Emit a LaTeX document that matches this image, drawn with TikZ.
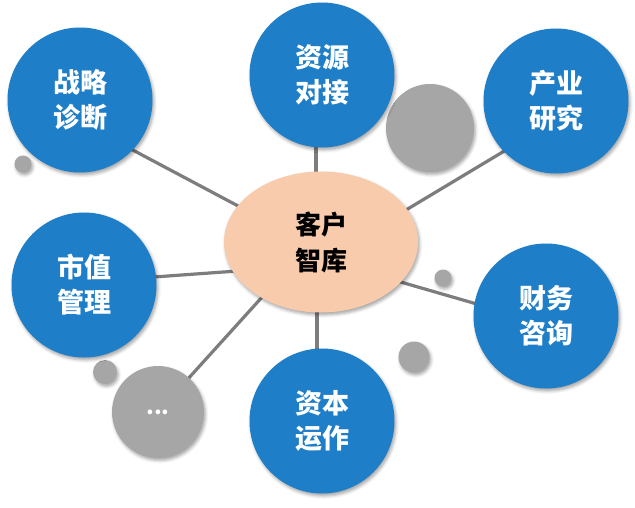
\documentclass[tikz,border=0pt]{standalone}
\usepackage{fontspec}
\newfontfamily\cjk{Noto Sans CJK SC}[BoldFont={Noto Sans CJK SC Black}]
\usetikzlibrary{shapes.geometric,shadows.blur,backgrounds}
\definecolor{bubbleblue}{RGB}{31,126,200}
\definecolor{peach}{RGB}{248,203,173}
\definecolor{dotgray}{RGB}{166,166,166}
\definecolor{linkgray}{RGB}{125,125,125}
\tikzset{
  softshadow/.style={blur shadow={shadow xshift=1.5pt, shadow yshift=-2.5pt, shadow blur radius=3pt, shadow opacity=35}},
  bluebubble/.style={circle, fill=bubbleblue, minimum size=145pt, inner sep=0pt, softshadow,
     text=white, align=center, font=\cjk\bfseries\fontsize{27}{35}\selectfont},
  graydot/.style={circle, fill=dotgray, inner sep=0pt, softshadow},
  hub/.style={ellipse, fill=peach, minimum width=194pt, minimum height=141pt, inner sep=0pt, softshadow,
     text=black, align=center, font=\cjk\bfseries\fontsize{26}{36}\selectfont},
  link/.style={draw=linkgray, line width=3.2pt}
}
\begin{document}
\begin{tikzpicture}[x=1pt,y=-1pt]
\useasboundingbox (0,0) rectangle (635,507);
% gray dots
\node[graydot, minimum size=17pt] (g1) at (23,164) {};
\node[graydot, minimum size=88pt] (g2) at (430,128) {};
\node[graydot, minimum size=17pt] (g3) at (443,278) {};
\node[graydot, minimum size=31pt] (g4) at (414,357) {};
\node[graydot, minimum size=24pt] (g5) at (105,372) {};
\node[graydot, minimum size=92pt, text=white, font=\cjk\bfseries\fontsize{22}{24}\selectfont] (more) at (158,412) {...};
% hub and bubbles
\node[hub] (hub) at (321,242) {客户\\智库};
\node[bluebubble] (zl) at (80,100) {战略\\诊断};
\node[bluebubble] (zy) at (322,75) {资源\\对接};
\node[bluebubble] (cy) at (556,101) {产业\\研究};
\node[bluebubble] (sz) at (84,285) {市值\\管理};
\node[bluebubble] (cw) at (546,316) {财务\\咨询};
\node[bluebubble] (zb) at (322,421) {资本\\运作};
% connectors
\begin{scope}[on background layer]
\draw[link] ([yshift=-8pt]hub.center) -- ([yshift=-22pt]zl.center);
\draw[link] ([xshift=-5pt]hub.center) -- ([xshift=-6pt]zy.center);
\draw[link] ([yshift=-19pt]hub.center) -- ([yshift=-19pt]cy.center);
\draw[link] ([yshift=-23pt]hub.center) -- ([yshift=3pt]sz.center);
\draw[link] ([yshift=-17pt]hub.center) -- ([yshift=-8pt]cw.center);
\draw[link] ([xshift=-4pt]hub.center) -- ([xshift=-5pt]zb.center);
\draw[link] ([yshift=10pt]hub.center) -- (more.center);
\end{scope}
\end{tikzpicture}
\end{document}
